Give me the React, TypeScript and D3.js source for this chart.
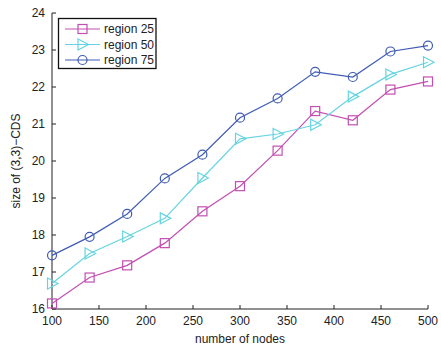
import React, { useEffect, useRef } from 'react';
import * as d3 from 'd3';

// data
const nodes = [100, 140, 180, 220, 260, 300, 340, 380, 420, 460, 500];
const region25 = [16.15, 16.85, 17.18, 17.78, 18.64, 19.32, 20.28, 21.35, 21.1, 21.93, 22.15];
const region50 = [16.69, 17.5, 17.96, 18.45, 19.54, 20.6, 20.73, 20.98, 21.74, 22.34, 22.67];
const region75 = [17.45, 17.95, 18.57, 19.53, 20.17, 21.17, 21.69, 22.41, 22.27, 22.96, 23.12];
const xTicks = [100, 150, 200, 250, 300, 350, 400, 450, 500];
const yTicks = [16, 17, 18, 19, 20, 21, 22, 23, 24];

const seriesList = [
  { name: 'region 25', values: region25, color: '#C24FB2', marker: 'square' },
  { name: 'region 50', values: region50, color: '#66D4E0', marker: 'triangle' },
  { name: 'region 75', values: region75, color: '#3F5CB3', marker: 'circle' },
];

const drawMarker = (g: any, type: string, x: number, y: number, color: string) => {
  if (type === 'square') {
    g.append('rect')
      .attr('x', x - 4.5).attr('y', y - 4.5)
      .attr('width', 9).attr('height', 9)
      .style('fill', 'none').style('stroke', color).style('stroke-width', 1.2);
  } else if (type === 'triangle') {
    g.append('polygon')
      .attr('points', `${x - 4.5},${y - 5.5} ${x + 6},${y} ${x - 4.5},${y + 5.5}`)
      .style('fill', 'none').style('stroke', color).style('stroke-width', 1.2);
  } else {
    g.append('circle')
      .attr('cx', x).attr('cy', y).attr('r', 4.5)
      .style('fill', 'none').style('stroke', color).style('stroke-width', 1.2);
  }
};

const App = () => {
  const svgRef = useRef<SVGSVGElement>(null);

  useEffect(() => {
    if (!svgRef.current) return;
    const width = 441;
    const height = 346;
    const svg = d3.select(svgRef.current)
      .attr('width', width)
      .attr('height', height)
      .style('font-family', 'Arial, "Liberation Sans", sans-serif');
    svg.selectAll('*').remove();

    const x = d3.scaleLinear().domain([100, 500]).range([52, 428]);
    const y = d3.scaleLinear().domain([16, 24]).range([309, 13]);

    // axes: only left and bottom, ticks pointing inward
    const axisG = svg.append('g');
    axisG.append('line')
      .attr('x1', x(100)).attr('x2', x(500)).attr('y1', y(16)).attr('y2', y(16))
      .style('stroke', '#222').style('stroke-width', 1);
    axisG.append('line')
      .attr('x1', x(100)).attr('x2', x(100)).attr('y1', y(16)).attr('y2', y(24))
      .style('stroke', '#222').style('stroke-width', 1);

    xTicks.forEach((t) => {
      axisG.append('line')
        .attr('x1', x(t)).attr('x2', x(t)).attr('y1', y(16)).attr('y2', y(16) - 4)
        .style('stroke', '#222');
      axisG.append('text')
        .attr('x', x(t)).attr('y', y(16) + 16)
        .attr('text-anchor', 'middle')
        .style('font-size', '12px').style('fill', '#222')
        .text(t);
    });
    yTicks.forEach((t) => {
      axisG.append('line')
        .attr('x1', x(100)).attr('x2', x(100) + 4).attr('y1', y(t)).attr('y2', y(t))
        .style('stroke', '#222');
      axisG.append('text')
        .attr('x', x(100) - 7).attr('y', y(t))
        .attr('dy', '0.35em')
        .attr('text-anchor', 'end')
        .style('font-size', '12px').style('fill', '#222')
        .text(t);
    });

    svg.append('text')
      .attr('x', 240).attr('y', 343)
      .attr('text-anchor', 'middle')
      .style('font-size', '12px').style('fill', '#222')
      .text('number of nodes');
    svg.append('text')
      .attr('transform', `translate(20, ${y(20)}) rotate(-90)`)
      .attr('text-anchor', 'middle')
      .style('font-size', '12px').style('fill', '#222')
      .text('size of (3,3)\u2212CDS');

    // series
    const line = d3.line<number>()
      .x((d, i) => x(nodes[i]))
      .y((d) => y(d));

    seriesList.forEach((s) => {
      const g = svg.append('g');
      g.append('path')
        .datum(s.values)
        .attr('d', line)
        .style('fill', 'none')
        .style('stroke', s.color)
        .style('stroke-width', 1.2);
      s.values.forEach((v, i) => drawMarker(g, s.marker, x(nodes[i]), y(v), s.color));
    });

    // legend
    const legend = svg.append('g');
    legend.append('rect')
      .attr('x', 58.5).attr('y', 18.5).attr('width', 97.5).attr('height', 50)
      .style('fill', '#fff').style('stroke', '#111').style('stroke-width', 1.3);
    seriesList.forEach((s, i) => {
      const ly = 29 + i * 15.5;
      legend.append('line')
        .attr('x1', 65).attr('x2', 100).attr('y1', ly).attr('y2', ly)
        .style('stroke', s.color).style('stroke-width', 1.2);
      drawMarker(legend, s.marker, 82.5, ly, s.color);
      legend.append('text')
        .attr('x', 104).attr('y', ly)
        .attr('dy', '0.35em')
        .style('font-size', '12px').style('fill', '#222')
        .text(s.name);
    });
  }, []);

  return (
    <div style={{ position: 'absolute', left: 0, top: 0 }}>
      <svg ref={svgRef}></svg>
    </div>
  );
};

export default App;
